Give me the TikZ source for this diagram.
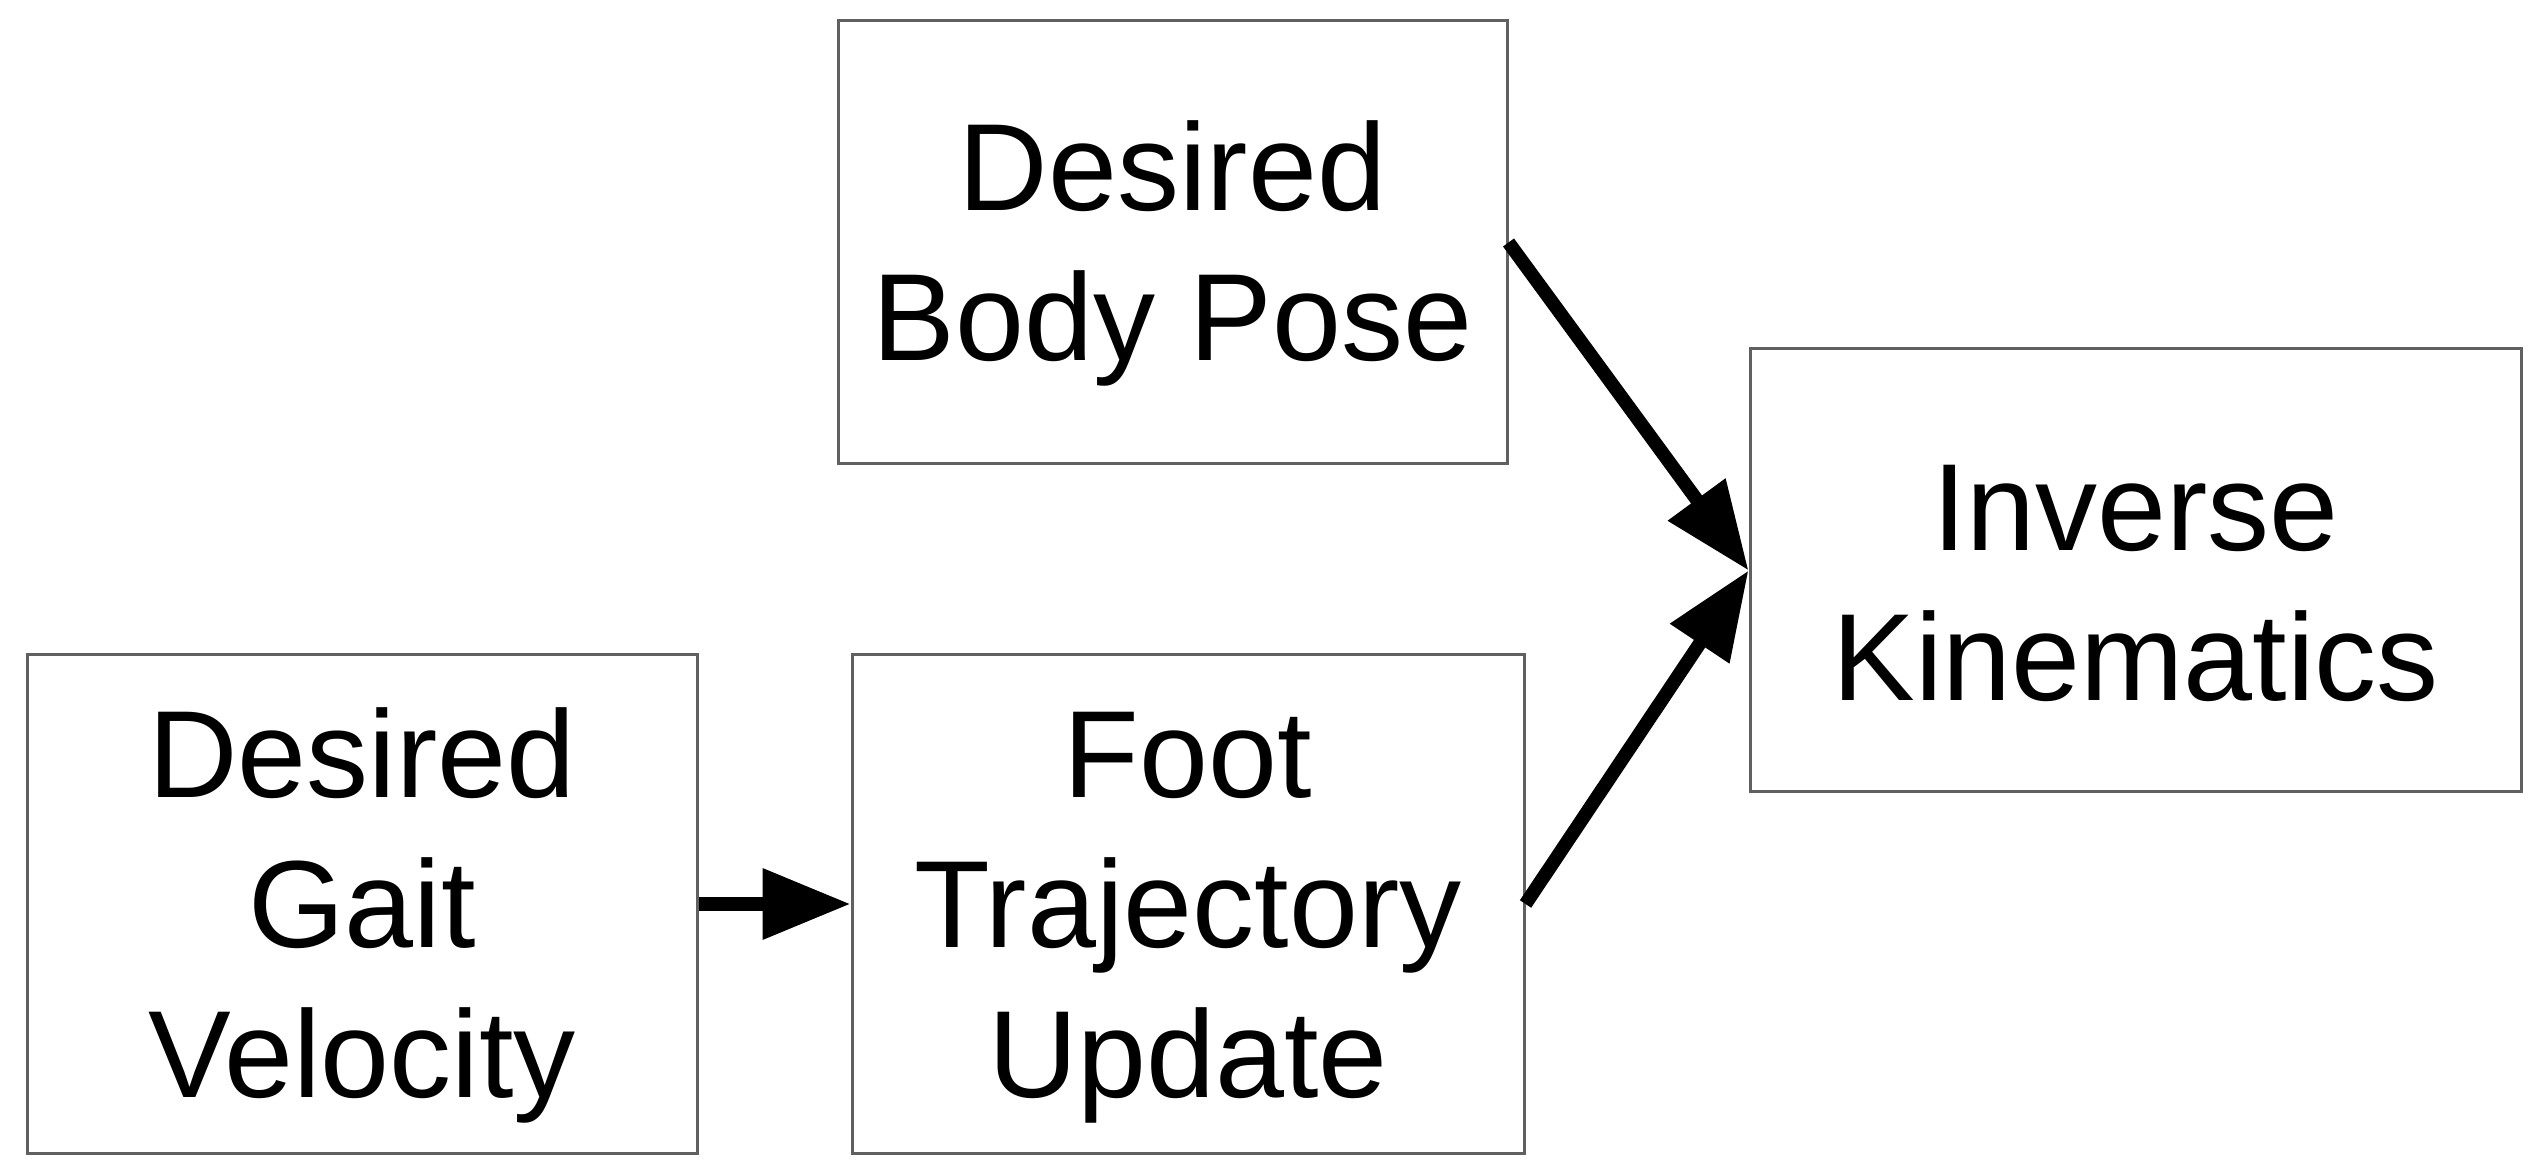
\documentclass[tikz,border=0pt]{standalone}
\usepackage{fontspec}
\setmainfont{Liberation Sans}
\usetikzlibrary{arrows.meta}
\definecolor{boxgray}{HTML}{606060}
\newcommand{\firstln}{\rule{0pt}{28pt}}
\begin{document}
\begin{tikzpicture}[x=0.25pt,y=-0.25pt,
  box/.style={draw=boxgray, line width=0.75pt, rectangle, align=center, inner sep=0pt,
    font=\fontsize{31}{37.5}\selectfont},
  conn/.style={line width=3.4pt, -{Triangle[length=22pt,width=17pt]}}]
\useasboundingbox (0,0) rectangle (2536,1174);
\node[box, minimum width=167.25pt, minimum height=110.75pt] (dbp) at (1172.5,242.5) {\firstln Desired\\Body Pose};
\node[box, minimum width=192.75pt, minimum height=110.75pt] (ik) at (2135.5,570.5) {\firstln Inverse\\Kinematics};
\node[box, minimum width=167.5pt, minimum height=124.5pt] (dgv) at (362,904) {\firstln Desired\\Gait\\Velocity};
\node[box, minimum width=168pt, minimum height=124.5pt] (ftu) at (1188,904) {\firstln Foot\\Trajectory\\Update};
\draw[conn] (dbp.east) -- (ik.west);
\draw[conn] (ftu.east) -- (ik.west);
\draw[conn] (dgv.east) -- (ftu.west);
\end{tikzpicture}
\end{document}
